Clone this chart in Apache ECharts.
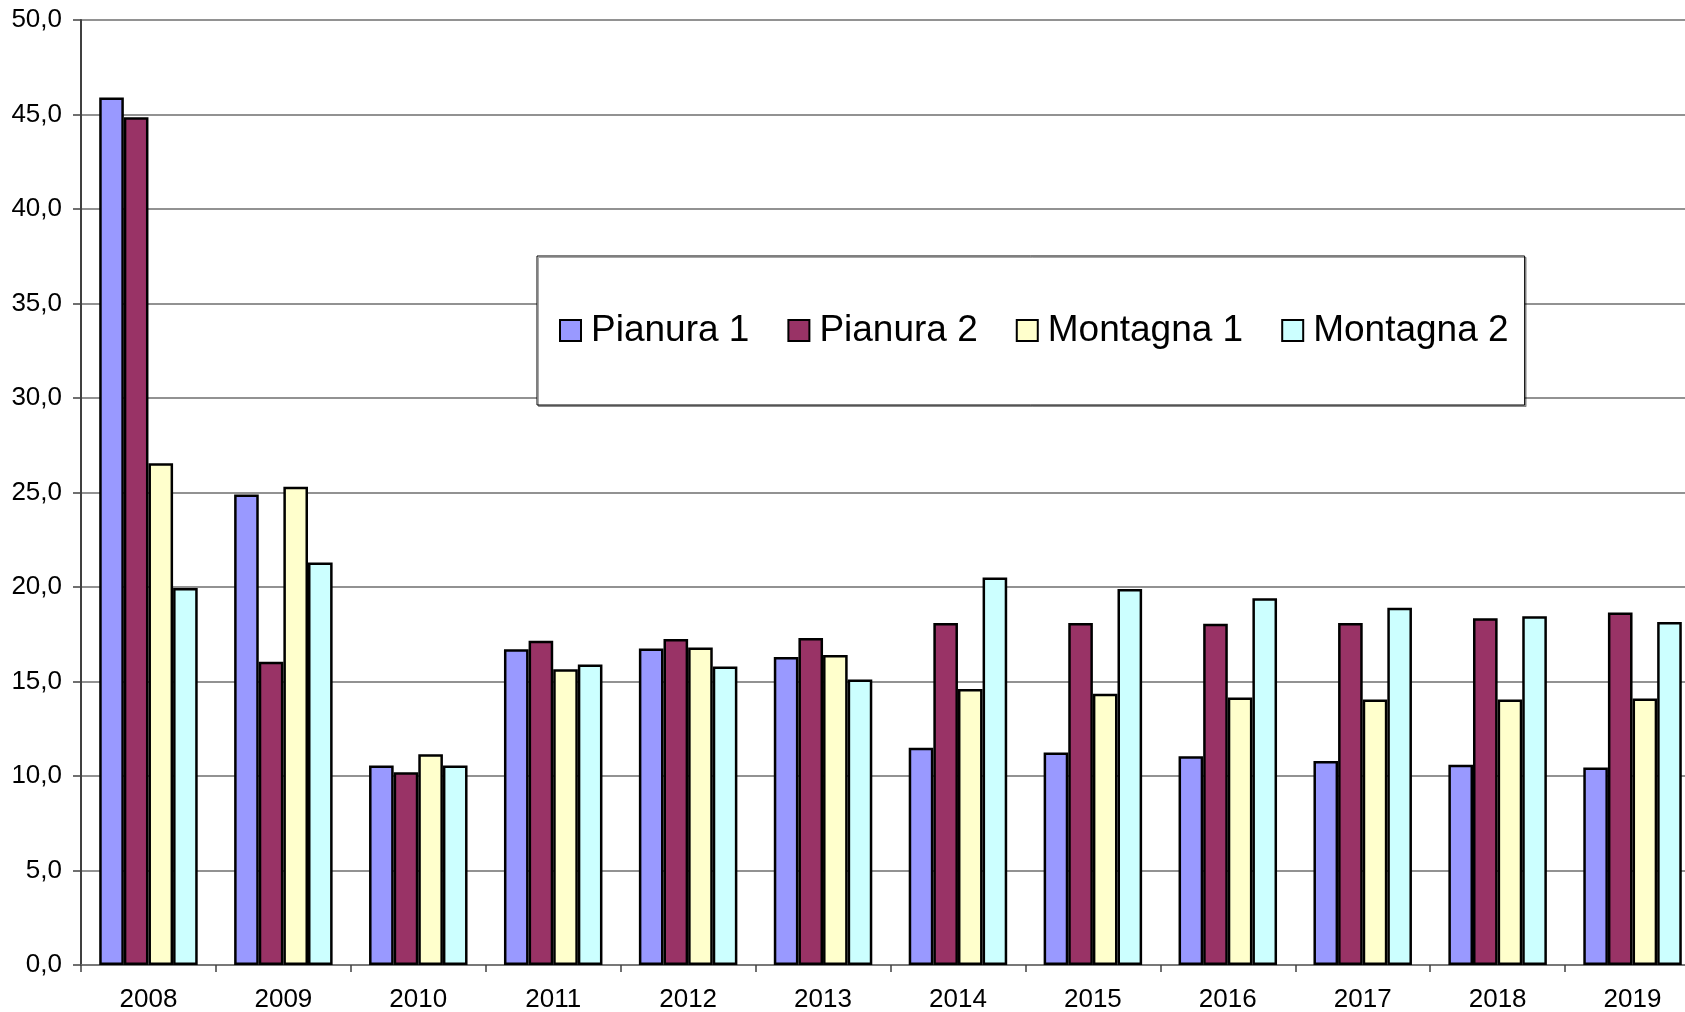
<!DOCTYPE html>
<html>
<head>
<meta charset="utf-8">
<script src="https://cdn.jsdelivr.net/npm/echarts@6/dist/echarts.min.js"></script>
<style>
html,body{margin:0;padding:0;background:#fff;}
#chart{width:1685px;height:1012px;}
</style>
</head>
<body>
<div id="chart"></div>
<script>
const years = ['2008','2009','2010','2011','2012','2013','2014','2015','2016','2017','2018','2019'];
const seriesNames = ['Pianura 1','Pianura 2','Montagna 1','Montagna 2'];
const pianura1 = [45.9, 24.9, 10.55, 16.7, 16.75, 16.3, 11.5, 11.25, 11.05, 10.8, 10.6, 10.45];
const pianura2 = [44.85, 16.05, 10.2, 17.15, 17.25, 17.3, 18.1, 18.1, 18.05, 18.1, 18.35, 18.65];
const montagna1 = [26.55, 25.3, 11.15, 15.65, 16.8, 16.4, 14.6, 14.35, 14.15, 14.05, 14.05, 14.1];
const montagna2 = [19.95, 21.3, 10.55, 15.9, 15.8, 15.1, 20.5, 19.9, 19.4, 18.9, 18.45, 18.15];
const colors = ['#9999FF','#993366','#FFFFCC','#CCFFFF'];

const values = [pianura1, pianura2, montagna1, montagna2];
const chart = echarts.init(document.getElementById('chart'), null, {renderer:'canvas'});
const font = '"Liberation Sans", Arial, sans-serif';
chart.setOption({
  animation: false,
  backgroundColor: '#ffffff',
  grid: {left: 81, width: 1619, top: 20, bottom: 47, containLabel: false, outerBoundsMode: 'none'},
  legend: {
    data: seriesNames,
    left: 537, top: 256,
    orient: 'horizontal',
    padding: [56, 16, 56, 22],
    itemGap: 38,
    itemWidth: 21, itemHeight: 21,
    icon: 'rect',
    backgroundColor: '#ffffff',
    borderColor: '#000000',
    borderWidth: 1,
    shadowColor: 'rgba(0,0,0,0.35)',
    shadowOffsetX: 1.5, shadowOffsetY: 1.5, shadowBlur: 0,
    textStyle: {fontFamily: font, fontSize: 37, color: '#000', padding: [0,0,0,5]}
  },
  xAxis: {
    type: 'category',
    data: years,
    axisLine: {show: true, lineStyle: {color: '#707070', width: 1.5}},
    axisTick: {show: true, length: 7, lineStyle: {color: '#404040', width: 1.5}},
    axisLabel: {fontFamily: font, fontSize: 26, color: '#000', margin: 22, interval: 0},
    splitLine: {show: false}
  },
  yAxis: {
    type: 'value',
    min: 0, max: 50, interval: 5,
    axisLine: {show: true, lineStyle: {color: '#404040', width: 2}},
    axisTick: {show: true, length: 8, lineStyle: {color: '#404040', width: 1.5}},
    axisLabel: {fontFamily: font, fontSize: 26, color: '#000', margin: 19,
      formatter: v => v.toFixed(1).replace('.', ',')},
    splitLine: {show: true, lineStyle: {color: '#6e6e6e', width: 1.5}}
  },
  series: seriesNames.map((name, i) => ({
    name: name,
    type: 'bar',
    data: values[i],
    barGap: '0%',
    barCategoryGap: '27%',
    itemStyle: {color: colors[i], borderColor: '#000000', borderWidth: 2.5}
  }))
});
</script>
</body>
</html>
